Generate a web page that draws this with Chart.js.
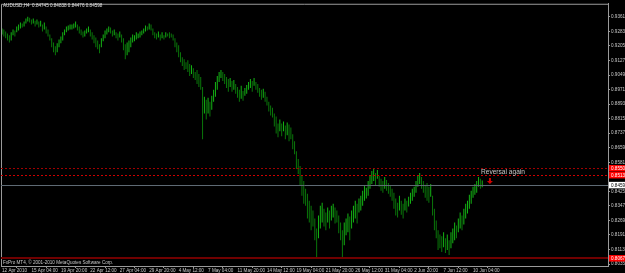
<!DOCTYPE html>
<html>
<head>
<meta charset="utf-8">
<script src="https://cdn.jsdelivr.net/npm/chart.js@4.4.0/dist/chart.umd.min.js"></script>
<style>
   html, body { margin: 0; padding: 0; background: #000; }
</style>
</head>
<body>
<canvas id="chart" width="625" height="273"></canvas>
<script>
var symbolTitle = "AUDUSD,H4  0.84745 0.84838 0.84476 0.84598";
var copyright = "FxPro MT4, \u00a9 2001-2010 MetaQuotes Software Corp.";

// H4 bars, high / low
var highs = [
   0.9299,0.9293,0.9283,0.9272,0.9262,0.9278,0.9293,0.9288,0.9309,0.9320,
   0.9331,0.9325,0.9336,0.9352,0.9362,0.9357,0.9347,0.9352,0.9341,0.9347,
   0.9336,0.9341,0.9320,0.9331,0.9309,0.9293,0.9267,0.9246,0.9224,0.9203,
   0.9219,0.9240,0.9256,0.9278,0.9293,0.9309,0.9315,0.9320,0.9320,0.9325,
   0.9336,0.9320,0.9309,0.9293,0.9283,0.9288,0.9299,0.9309,0.9293,0.9278,
   0.9262,0.9251,0.9235,0.9214,0.9246,0.9267,0.9288,0.9299,0.9309,0.9304,
   0.9288,0.9293,0.9278,0.9272,0.9283,0.9267,0.9246,0.9214,0.9224,0.9235,
   0.9251,0.9267,0.9262,0.9278,0.9272,0.9283,0.9288,0.9299,0.9315,0.9309,
   0.9325,0.9320,0.9299,0.9278,0.9272,0.9283,0.9267,0.9278,0.9262,0.9278,
   0.9272,0.9278,0.9272,0.9267,0.9246,0.9224,0.9209,0.9171,0.9145,0.9134,
   0.9118,0.9129,0.9108,0.9102,0.9086,0.9065,0.9076,0.9054,0.9038,0.8985,
   0.8932,0.8916,0.8927,0.8906,0.8938,0.8970,0.9012,0.9044,0.9065,0.9076,
   0.9065,0.9054,0.9038,0.9028,0.9033,0.9017,0.9023,0.9001,0.8985,0.8970,
   0.8991,0.8964,0.8980,0.8996,0.9012,0.9028,0.9017,0.9033,0.9012,0.9001,
   0.8980,0.8970,0.8975,0.8959,0.8932,0.8906,0.8885,0.8874,0.8842,0.8826,
   0.8789,0.8810,0.8789,0.8800,0.8778,0.8794,0.8784,0.8768,0.8731,0.8694,
   0.8640,0.8598,0.8561,0.8508,0.8481,0.8439,0.8412,0.8375,0.8348,0.8322,
   0.8279,0.8226,0.8295,0.8348,0.8364,0.8332,0.8311,0.8338,0.8322,0.8348,
   0.8359,0.8338,0.8322,0.8295,0.8258,0.8216,0.8258,0.8279,0.8306,0.8290,
   0.8322,0.8348,0.8375,0.8359,0.8386,0.8401,0.8428,0.8454,0.8444,0.8481,
   0.8508,0.8534,0.8545,0.8524,0.8540,0.8508,0.8492,0.8481,0.8502,0.8486,
   0.8470,0.8454,0.8439,0.8417,0.8386,0.8364,0.8401,0.8375,0.8359,0.8386,
   0.8375,0.8396,0.8417,0.8439,0.8449,0.8481,0.8508,0.8524,0.8502,0.8481,
   0.8460,0.8470,0.8449,0.8465,0.8401,0.8332,0.8269,0.8216,0.8194,0.8184,
   0.8205,0.8173,0.8194,0.8163,0.8205,0.8226,0.8258,0.8242,0.8279,0.8311,
   0.8295,0.8332,0.8359,0.8375,0.8407,0.8428,0.8449,0.8465,0.8481,0.8502,
   0.8492,0.84838
];
var lows = [
   0.9267,0.9256,0.9246,0.9235,0.9224,0.9235,0.9262,0.9256,0.9278,0.9288,
   0.9299,0.9304,0.9309,0.9325,0.9336,0.9331,0.9320,0.9325,0.9309,0.9320,
   0.9304,0.9309,0.9283,0.9293,0.9272,0.9256,0.9235,0.9198,0.9171,0.9155,
   0.9171,0.9198,0.9219,0.9235,0.9262,0.9278,0.9288,0.9293,0.9293,0.9299,
   0.9304,0.9288,0.9272,0.9262,0.9251,0.9256,0.9272,0.9278,0.9256,0.9240,
   0.9219,0.9198,0.9187,0.9166,0.9198,0.9230,0.9246,0.9267,0.9278,0.9272,
   0.9256,0.9262,0.9246,0.9235,0.9251,0.9224,0.9182,0.9134,0.9155,0.9171,
   0.9198,0.9224,0.9230,0.9240,0.9246,0.9251,0.9262,0.9272,0.9283,0.9288,
   0.9293,0.9288,0.9262,0.9246,0.9240,0.9251,0.9235,0.9246,0.9240,0.9251,
   0.9256,0.9246,0.9251,0.9235,0.9198,0.9171,0.9145,0.9118,0.9097,0.9076,
   0.9081,0.9065,0.9044,0.9054,0.9033,0.9023,0.9001,0.8985,0.8970,0.8704,
   0.8842,0.8810,0.8842,0.8826,0.8863,0.8906,0.8932,0.8970,0.9012,0.9033,
   0.9017,0.9001,0.8980,0.8959,0.8985,0.8959,0.8970,0.8948,0.8927,0.8906,
   0.8922,0.8911,0.8938,0.8948,0.8970,0.8980,0.8959,0.8991,0.8970,0.8954,
   0.8932,0.8916,0.8927,0.8906,0.8885,0.8853,0.8832,0.8821,0.8773,0.8736,
   0.8715,0.8747,0.8720,0.8747,0.8704,0.8726,0.8694,0.8704,0.8651,0.8624,
   0.8545,0.8518,0.8454,0.8401,0.8359,0.8348,0.8279,0.8258,0.8216,0.8237,
   0.8163,0.8067,0.8173,0.8226,0.8258,0.8237,0.8216,0.8258,0.8226,0.8269,
   0.8285,0.8253,0.8258,0.8200,0.8163,0.8067,0.8136,0.8189,0.8205,0.8163,
   0.8226,0.8258,0.8279,0.8253,0.8311,0.8322,0.8348,0.8375,0.8386,0.8401,
   0.8439,0.8465,0.8481,0.8454,0.8492,0.8449,0.8428,0.8417,0.8439,0.8428,
   0.8412,0.8396,0.8375,0.8332,0.8295,0.8285,0.8322,0.8300,0.8279,0.8322,
   0.8311,0.8343,0.8359,0.8375,0.8396,0.8417,0.8449,0.8465,0.8439,0.8417,
   0.8391,0.8375,0.8364,0.8396,0.8295,0.8216,0.8173,0.8110,0.8120,0.8099,
   0.8125,0.8094,0.8110,0.8083,0.8120,0.8147,0.8163,0.8173,0.8205,0.8226,
   0.8216,0.8247,0.8279,0.8306,0.8332,0.8359,0.8391,0.8407,0.8417,0.8449,
   0.8439,0.84476
];

var timeLabels = ["12 Apr 2010", "15 Apr 04:00", "19 Apr 20:00", "22 Apr 12:00", "27 Apr 04:00",
   "29 Apr 20:00", "4 May 12:00", "7 May 04:00", "11 May 20:00", "14 May 12:00", "19 May 04:00",
   "21 May 20:00", "26 May 12:00", "31 May 04:00", "2 Jun 20:00", "7 Jun 12:00", "10 Jun 04:00"];
var timeLabelBars = [0, 16, 32, 48, 64, 80, 96, 112, 128, 144, 160, 176, 192, 208, 224, 240, 256];

var priceTicks = [0.93610, 0.92830, 0.92050, 0.91270, 0.90490, 0.89710, 0.88930, 0.88150, 0.87370,
   0.86590, 0.85810, 0.85030, 0.84250, 0.83470, 0.82690, 0.81910, 0.81130, 0.80350];

var reversalLines = [0.85500, 0.85130];
var supportLine = 0.80670;
var bidPrice = 0.84598;
var noteText = "Reversal again";
var noteBar = 260.3;
var notePrice = 0.8529;
var arrowBar = 265.2;
var arrowPrice = 0.8481;

var bars = [];
var colors = [];
for (var i = 0; i < highs.length; i++) {
   bars.push({ x: i, y: [lows[i], highs[i]] });
   var mid = (highs[i] + lows[i]) / 2;
   var prev = i > 0 ? (highs[i - 1] + lows[i - 1]) / 2 : mid;
   colors.push(mid >= prev ? "#14b414" : "#0a760a");
}

var smallFont = { size: 4.6, family: "Liberation Sans" };

var mt4Plugin = {
   id: "mt4",
   beforeDraw: function (chart) {
      var ctx = chart.ctx;
      ctx.save();
      ctx.fillStyle = "#000";
      ctx.fillRect(0, 0, chart.width, chart.height);
      ctx.restore();
   },
   afterDatasetsDraw: function (chart) {
      var ctx = chart.ctx;
      var a = chart.chartArea;
      var ys = chart.scales.y;
      var xs = chart.scales.x;
      ctx.save();

      // frame
      ctx.strokeStyle = "#9a9a9a";
      ctx.lineWidth = 1;
      ctx.beginPath();
      ctx.moveTo(a.left + 0.5, a.bottom);
      ctx.lineTo(a.left + 0.5, a.top + 0.5);
      ctx.lineTo(a.right, a.top + 0.5);
      ctx.stroke();

      // bid line
      var yb = Math.round(ys.getPixelForValue(bidPrice)) + 0.5;
      ctx.strokeStyle = "#5e6a74";
      ctx.beginPath();
      ctx.moveTo(a.left, yb);
      ctx.lineTo(a.right, yb);
      ctx.stroke();

      // reversal lines
      ctx.setLineDash([2, 2]);
      var lineCols = ["#a00000", "#d00000"];
      reversalLines.forEach(function (v, k) {
         var y = Math.round(ys.getPixelForValue(v)) + 0.5;
         ctx.strokeStyle = lineCols[k];
         ctx.beginPath();
         ctx.moveTo(a.left, y);
         ctx.lineTo(a.right, y);
         ctx.stroke();
      });
      ctx.setLineDash([]);

      // support line
      var ysup = ys.getPixelForValue(supportLine);
      ctx.strokeStyle = "#700000";
      ctx.lineWidth = 2;
      ctx.beginPath();
      ctx.moveTo(a.left, ysup);
      ctx.lineTo(a.right, ysup);
      ctx.stroke();
      ctx.lineWidth = 1;

      // texts
      ctx.font = "4.6px Liberation Sans";
      ctx.fillStyle = "#e0e0e0";
      ctx.textBaseline = "top";
      ctx.textAlign = "left";
      ctx.fillText(symbolTitle, 3, 3);
      ctx.fillStyle = "#c8c8c8";
      ctx.fillText(copyright, 3, ysup + 2);

      ctx.font = "6.6px Liberation Sans";
      ctx.fillStyle = "#c8c8c8";
      ctx.textBaseline = "middle";
      ctx.fillText(noteText, xs.getPixelForValue(noteBar), ys.getPixelForValue(notePrice));

      // arrow
      var ax = xs.getPixelForValue(arrowBar);
      var ay = ys.getPixelForValue(arrowPrice);
      ctx.fillStyle = "#d00000";
      ctx.beginPath();
      ctx.moveTo(ax - 1, ay - 3);
      ctx.lineTo(ax + 1, ay - 3);
      ctx.lineTo(ax + 1, ay);
      ctx.lineTo(ax + 3, ay);
      ctx.lineTo(ax, ay + 3);
      ctx.lineTo(ax - 3, ay);
      ctx.lineTo(ax - 1, ay);
      ctx.closePath();
      ctx.fill();

      // price boxes on the axis
      function box(v, bg, fg) {
         var y = ys.getPixelForValue(v);
         ctx.fillStyle = bg;
         ctx.fillRect(a.right + 1, y - 3, chart.width - a.right, 6.5);
         ctx.fillStyle = fg;
         ctx.font = "4.6px Liberation Sans";
         ctx.textBaseline = "middle";
         ctx.fillText(v.toFixed(5), a.right + 3, y + 0.5);
      }
      reversalLines.forEach(function (v) { box(v, "#ff0000", "#ffffff"); });
      box(supportLine, "#ff0000", "#ffffff");
      box(bidPrice, "#ffffff", "#000000");
      ctx.restore();
   }
};

new Chart(document.getElementById("chart").getContext("2d"), {
   type: "bar",
   plugins: [mt4Plugin],
   data: {
      datasets: [
         {
            label: "AUDUSD",
            data: bars,
            backgroundColor: colors,
            borderWidth: 0,
            barThickness: 1,
            inflateAmount: 0,
            grouped: false,
         },
      ],
   },
   options: {
      responsive: false,
      animation: false,
      devicePixelRatio: 1,
      layout: { padding: { left: 1, top: 1, right: 0, bottom: 0 } },
      plugins: {
         legend: { display: false },
         tooltip: { enabled: false },
      },
      scales: {
         x: {
            type: "linear",
            min: -0.543,
            max: 329.35,
            offset: false,
            afterBuildTicks: function (scale) {
               scale.ticks = timeLabelBars.map(function (v) { return { value: v }; });
            },
            afterFit: function (scale) { scale.height = 7; },
            grid: { drawOnChartArea: false, tickLength: 2, color: "#9a9a9a" },
            border: { color: "#9a9a9a" },
            ticks: {
               align: "start",
               autoSkip: false,
               maxRotation: 0,
               padding: 0,
               color: "#c8c8c8",
               font: smallFont,
               callback: function (v, idx) { return timeLabels[idx]; },
            },
         },
         y: {
            position: "right",
            min: 0.80244,
            max: 0.94315,
            afterBuildTicks: function (scale) {
               scale.ticks = priceTicks.map(function (v) { return { value: v }; });
            },
            afterFit: function (scale) { scale.width = 17; },
            grid: { drawOnChartArea: false, tickLength: 2, color: "#9a9a9a" },
            border: { color: "#9a9a9a" },
            ticks: {
               padding: 1,
               color: "#c8c8c8",
               font: smallFont,
               callback: function (v) { return v.toFixed(5); },
            },
         },
      },
   },
});
</script>
</body>
</html>
